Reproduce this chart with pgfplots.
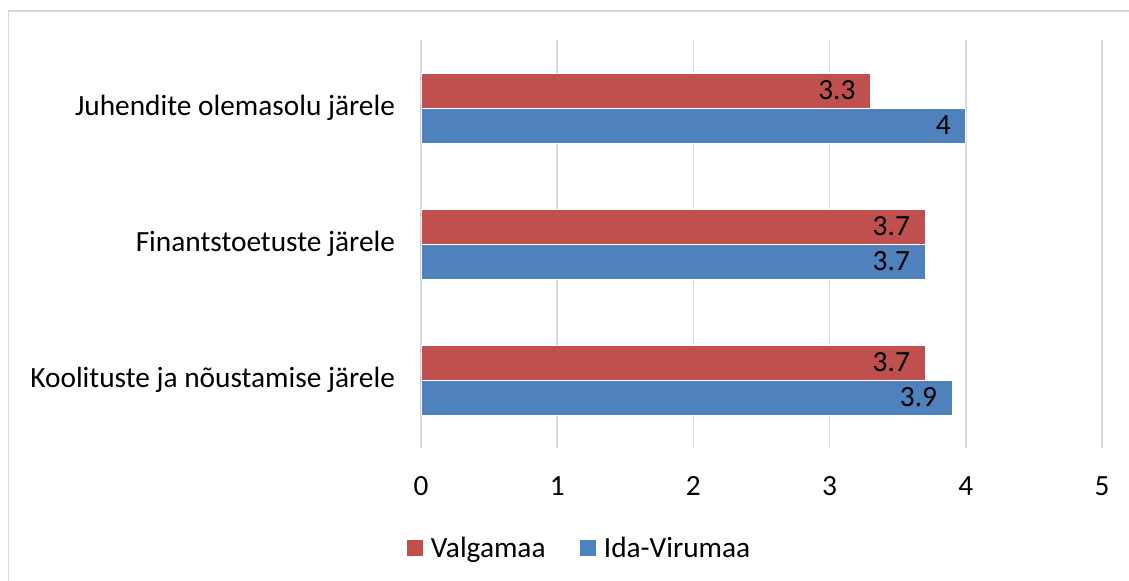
\documentclass[border=0pt]{standalone}
\usepackage{fontspec}
\setmainfont{Carlito}
\usepackage{pgfplots}
\pgfplotsset{compat=1.18}
\definecolor{valga}{HTML}{C0504D}
\definecolor{ida}{HTML}{4F81BD}
\definecolor{gridc}{HTML}{D9D9D9}
\begin{document}
\begin{tikzpicture}
\useasboundingbox (0,0) rectangle (846.75pt,-435.75pt);
\draw[gridc, line width=1.4pt] (6.4pt,-445pt) -- (6.4pt,-8.25pt) -- (855pt,-8.25pt);
\begin{axis}[
  at={(315.75pt,-336pt)}, anchor=south west,
  scale only axis,
  width=510.75pt, height=306pt,
  xbar, bar width=26.25pt,
  xmin=0, xmax=5,
  ymin=-0.5, ymax=2.5,
  xtick={0,1,2,3,4,5},
  ytick={0,1,2},
  yticklabels={Koolituste ja nõustamise järele, Finantstoetuste järele, Juhendite olemasolu järele},
  font=\fontsize{22}{26}\selectfont,
  /pgf/number format/assume math mode=true,
  xticklabel style={yshift=-18pt},
  yticklabel style={xshift=-16pt},
  axis line style={draw=none},
  major tick length=0pt,
  xmajorgrids, grid style={gridc, line width=1.2pt},
  nodes near coords,
  every node near coord/.append style={anchor=east, inner sep=0pt, xshift=-11pt, black},
  legend columns=2,
  legend style={draw=none, at={(0.2305,-0.245)}, anchor=center,
    nodes={inner sep=0pt},
    /tikz/every odd column/.append style={column sep=5.6pt},
    /tikz/every even column/.append style={column sep=24.75pt}},
  legend image code/.code={\fill[#1] (0pt,-6.4pt) rectangle (12.75pt,6.4pt);},
]
\addplot[fill=valga, draw=white, line width=0.6pt, bar shift=13.125pt] coordinates {
  (3.7,0) (3.7,1) (3.3,2)
};
\addplot[fill=ida, draw=white, line width=0.6pt, bar shift=-13.125pt] coordinates {
  (3.9,0) (3.7,1) (4,2)
};
\legend{Valgamaa, Ida-Virumaa}
\end{axis}
\end{tikzpicture}
\end{document}
